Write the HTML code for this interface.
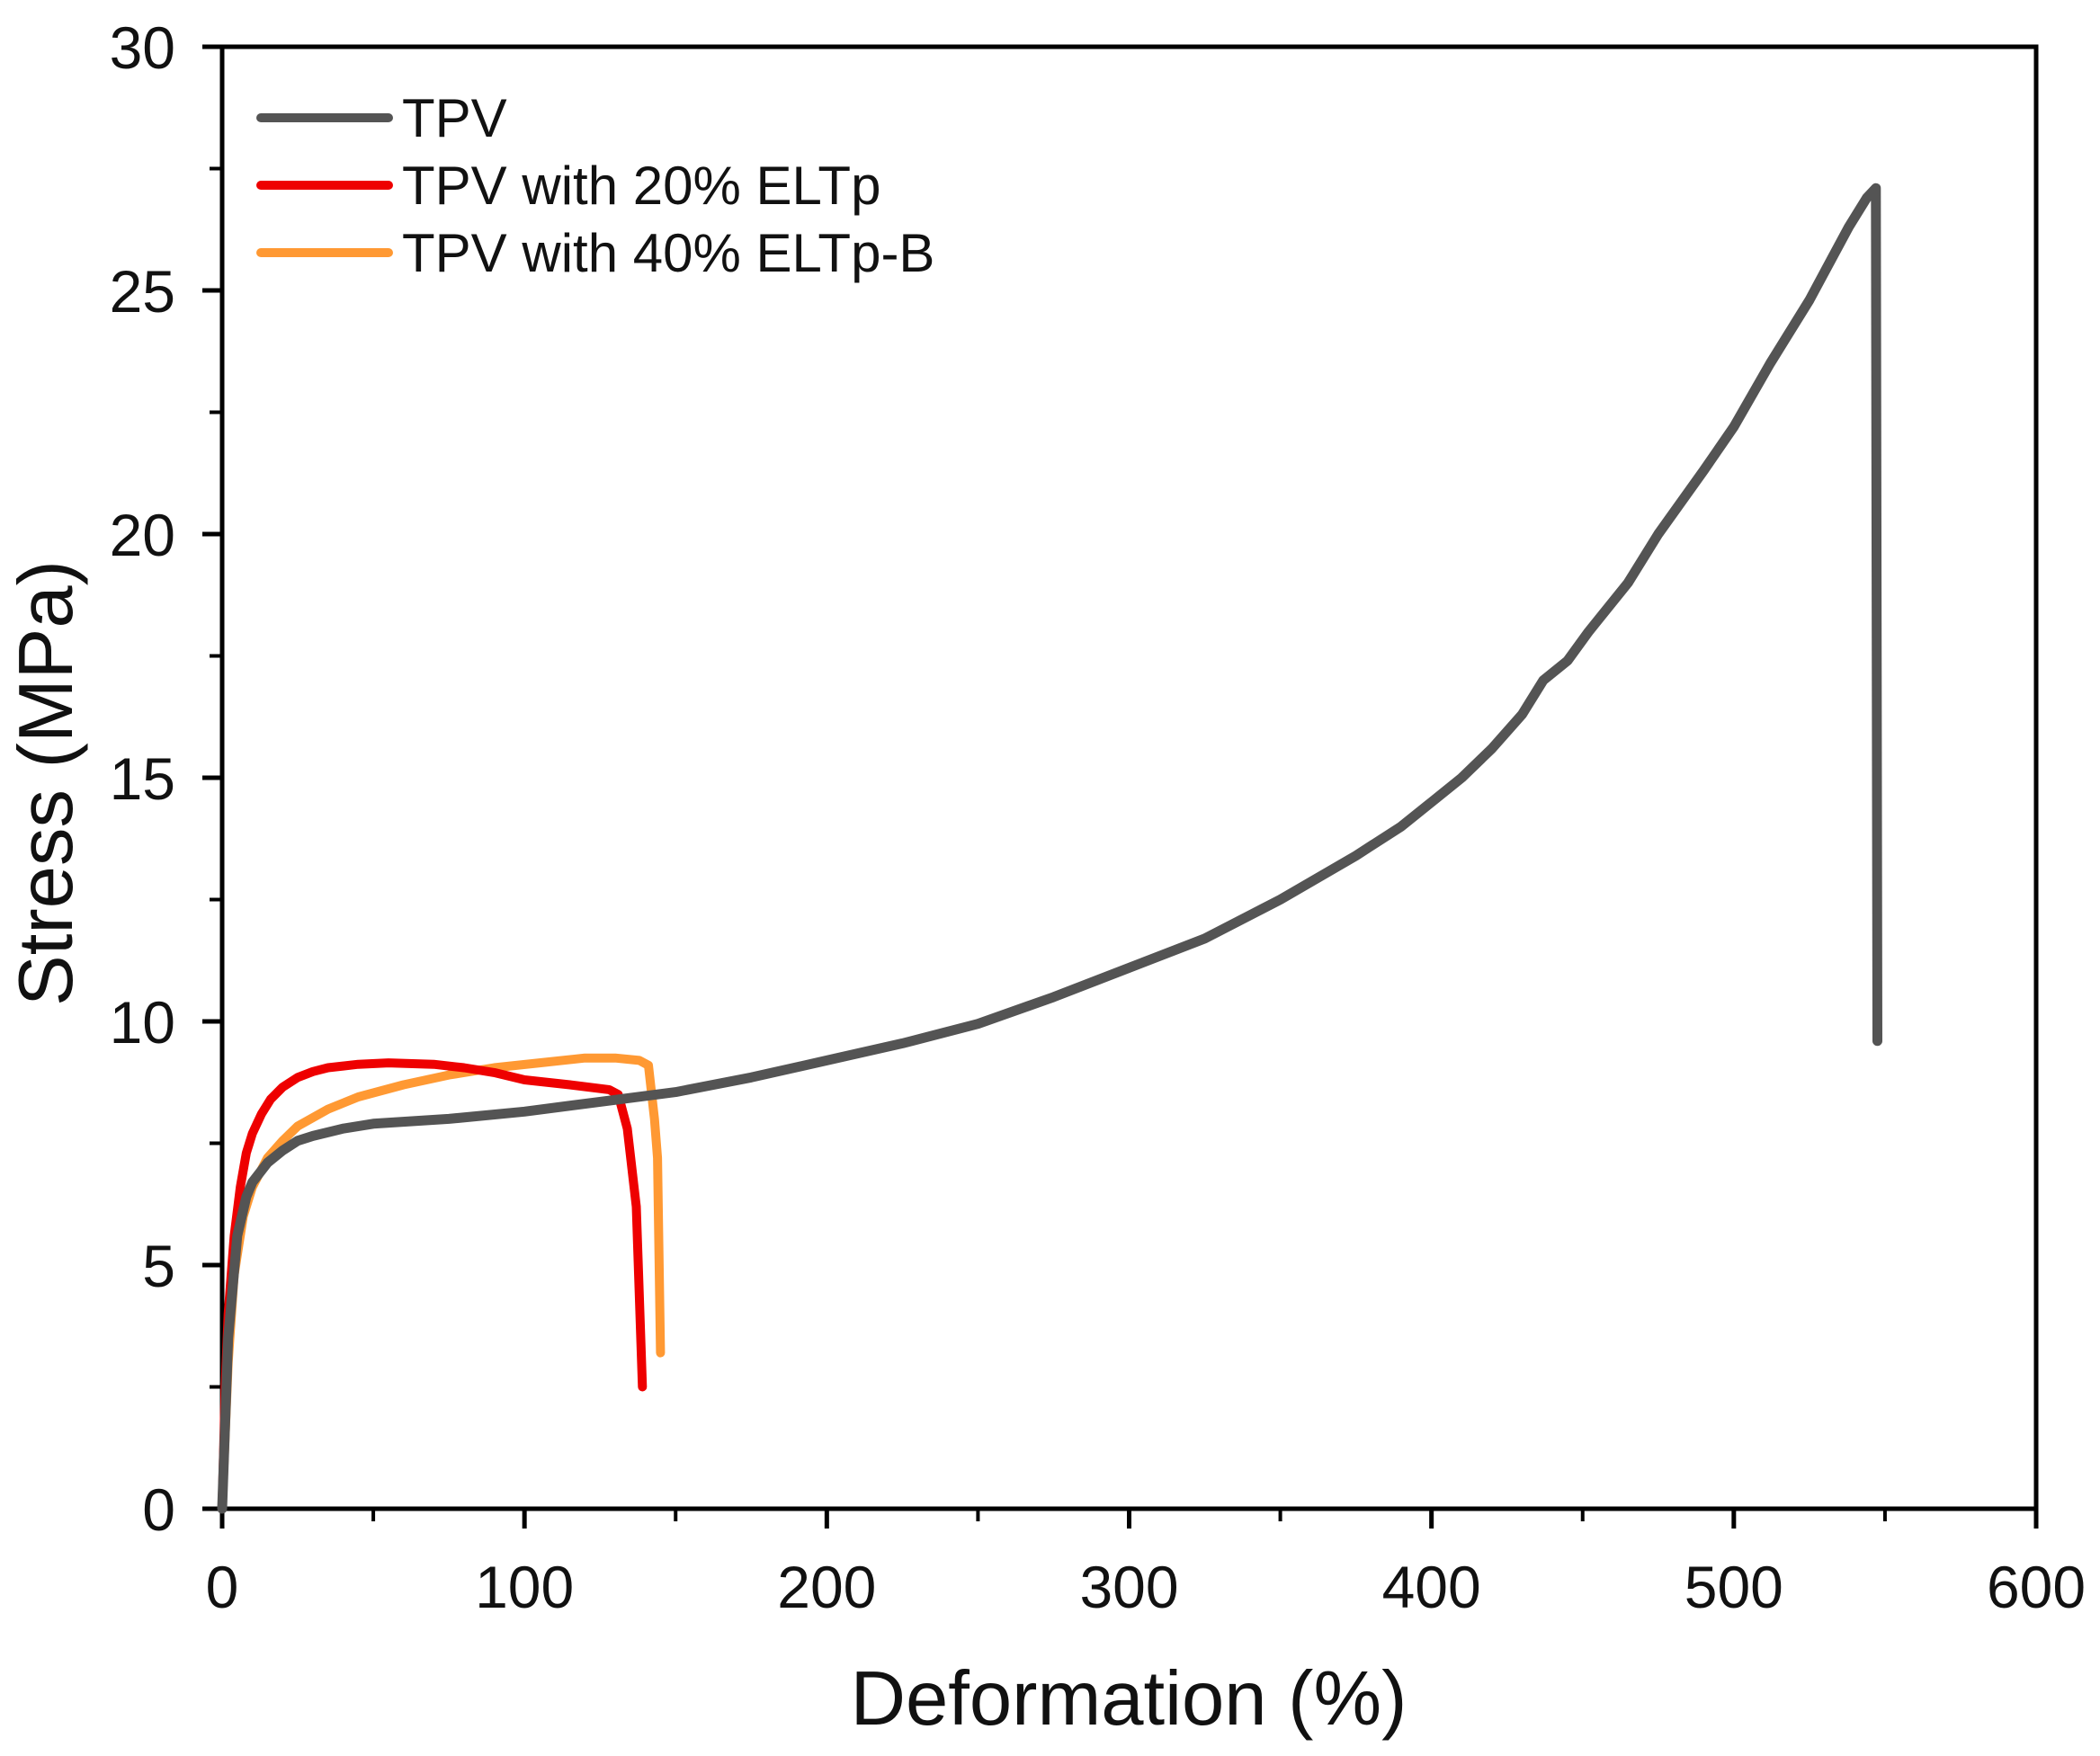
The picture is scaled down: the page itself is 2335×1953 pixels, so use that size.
<!DOCTYPE html>
<html><head><meta charset="utf-8"><style>
html,body{margin:0;padding:0;background:#fff}
svg{display:block}
text{font-family:"Liberation Sans",Arial,sans-serif;fill:#111}
</style></head><body>
<svg id="chart" width="2335" height="1953" viewBox="0 0 2335 1953" xmlns="http://www.w3.org/2000/svg">
<g id="grid"></g>
<g id="series"></g>
<g id="legend"></g>
<text x="0" y="0" transform="translate(80,871) rotate(-90)" text-anchor="middle" font-size="85">Stress (MPa)</text>
<text x="1255" y="1918" text-anchor="middle" font-size="85">Deformation (%)</text>
</svg>
<script>
const xTicks=[0,100,200,300,400,500,600];
const yTicks=[0,5,10,15,20,25,30];
const seriesNames=["TPV","TPV with 20% ELTp","TPV with 40% ELTp-B"];
const tpvX=[0,2,5,8,10,15,20,25,30,40,50,75,100,125,150,175,200,225,250,275,300,325,350,375,390,400,410,420,430,437,445,452,465,475,490,500,512,525,538,544,547,547.5];
const tpvY=[0,3.5,5.6,6.4,6.7,7.1,7.35,7.55,7.65,7.8,7.9,8.0,8.15,8.35,8.55,8.85,9.2,9.55,9.95,10.5,11.1,11.7,12.5,13.4,14.0,14.5,15.0,15.6,16.3,17.0,17.4,18.0,19.0,20.0,21.3,22.2,23.5,24.8,26.3,26.9,27.1,9.6];
const redX=[0,1,2,4,6,8,10,13,16,20,25,30,35,45,55,70,80,90,100,115,128,131,134,137,139];
const redY=[0,2.5,4.0,5.6,6.6,7.3,7.7,8.1,8.4,8.65,8.85,8.97,9.05,9.12,9.15,9.12,9.05,8.95,8.8,8.7,8.6,8.5,7.8,6.2,2.5];
const orX=[0,2,4,7,10,15,20,25,35,45,60,75,90,105,120,130,138,141,143,144,145];
const orY=[0,3.0,4.8,6.0,6.6,7.2,7.55,7.85,8.2,8.45,8.7,8.9,9.05,9.15,9.25,9.25,9.2,9.1,8.0,7.2,3.2];
const colors=["#545454","#ee0000","#ff9933"];

const X0=247,X1=2264,Y0=1678,Y1=52;
const sx=v=>X0+(v-0)/(600-0)*(X1-X0);
const sy=v=>Y0-(v-0)/(30-0)*(Y0-Y1);
const NS="http://www.w3.org/2000/svg";
function mk(tag,attrs,parent){const e=document.createElementNS(NS,tag);for(const k in attrs)e.setAttribute(k,attrs[k]);parent.appendChild(e);return e;}
const g=document.getElementById('grid');
let fr=mk('rect',{x:X0,y:Y1,width:X1-X0,height:Y0-Y1,fill:'none',stroke:'#000','stroke-width':5},g);


for(let i=0;i<xTicks.length;i++){
  const x=sx(xTicks[i]);
  const t=mk('line',{x1:x,y1:Y0,x2:x,y2:Y0+22,stroke:'#000','stroke-width':5},g);
  
  
  const l=mk('text',{x:x,y:Y0+110,'text-anchor':'middle','font-size':66},g);
  l.textContent=xTicks[i];
  
  
  if(i<xTicks.length-1){
    const xm=sx((xTicks[i]+xTicks[i+1])/2);
    const m=mk('line',{x1:xm,y1:Y0,x2:xm,y2:Y0+14,stroke:'#000','stroke-width':4},g);
    
    
  }
}
for(let i=0;i<yTicks.length;i++){
  const y=sy(yTicks[i]);
  const t=mk('line',{x1:X0-22,y1:y,x2:X0,y2:y,stroke:'#000','stroke-width':5},g);
  
  
  const l=mk('text',{x:X0-52,y:y+24,'text-anchor':'end','font-size':66},g);
  l.textContent=yTicks[i];
  
  
  if(i<yTicks.length-1){
    const ym=sy((yTicks[i]+yTicks[i+1])/2);
    const m=mk('line',{x1:X0-14,y1:ym,x2:X0,y2:ym,stroke:'#000','stroke-width':4},g);
    
    
  }
}
const sg=document.getElementById('series');
const data=[[tpvX,tpvY],[redX,redY],[orX,orY]];
const snames=['tpv-line','tpv-20-eltp-line','tpv-40-eltp-b-line'];
for(let s=2;s>=0;s--){
  const [xs,ys]=data[s];
  const pts=xs.map((v,i)=>sx(v).toFixed(1)+','+sy(ys[i]).toFixed(1)).join(' ');
  const p=mk('polyline',{points:pts,fill:'none',stroke:colors[s],'stroke-width':s===0?11:10,'stroke-linejoin':'round','stroke-linecap':'round'},sg);
  
  
}
const lg=document.getElementById('legend');
for(let s=0;s<3;s++){
  const y=131+s*75;
  const l=mk('line',{x1:290,y1:y,x2:432,y2:y,stroke:colors[s],'stroke-width':10,'stroke-linecap':'round'},lg);
  
  
  const t=mk('text',{x:447,y:y+21,'font-size':60},lg);
  t.textContent=seriesNames[s];
  
  
}
</script>
</body></html>
